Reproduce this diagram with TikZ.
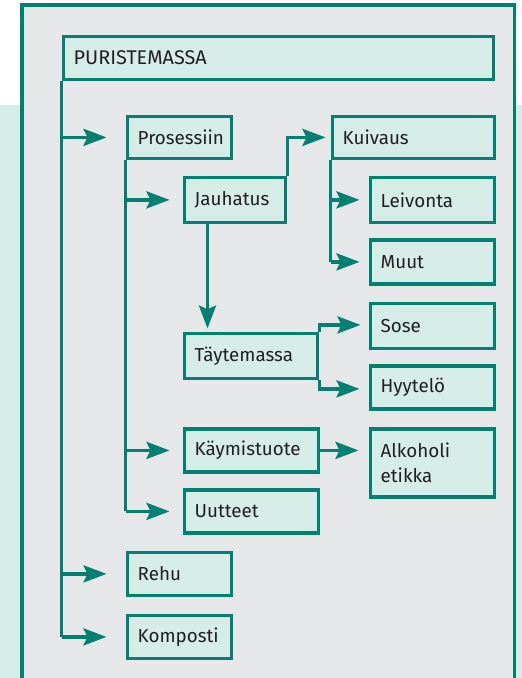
\documentclass[tikz,border=0pt]{standalone}
\usepackage{fontspec}
\setmainfont{Fira Sans}
\usetikzlibrary{arrows.meta,calc}
\definecolor{tealline}{RGB}{0,128,112}
\definecolor{boxfill}{RGB}{213,236,231}
\definecolor{framefill}{RGB}{230,231,233}
\definecolor{txt}{RGB}{35,31,32}
\tikzset{
  box/.style={draw=tealline, fill=boxfill, line width=3.8pt, anchor=north west,
    inner sep=0pt},
  lbl/.style={anchor=west, inner sep=0pt, font=\fontsize{18.8}{25}\selectfont, text=txt, align=left},
  conn/.style={draw=tealline, line width=3.6pt},
  arr/.style={conn, -{Stealth[length=23pt,width=17pt,inset=4pt]}},
}
\begin{document}
\begin{tikzpicture}[x=1pt,y=-1pt]
\useasboundingbox (0,0) rectangle (522,678);
\begin{scope}
\clip (0,0) rectangle (522,678);
\fill[white] (0,0) rectangle (522,105);
\fill[boxfill] (0,105) rectangle (522,678);
\draw[draw=tealline, fill=framefill, line width=3.8pt] (22,5) rectangle (514.5,700);
\end{scope}

\node[box, minimum width=430pt, minimum height=43pt] (pur) at (61.5,34.5) {};
\node[lbl, font=\fontsize{19.8}{23}\selectfont] at ([xshift=12pt]pur.west) {PURISTEMASSA};

\node[box, minimum width=104pt, minimum height=42pt] (pro) at (125.5,114.5) {};
\node[lbl] at ([xshift=12pt]pro.west) {Prosessiin};

\node[box, minimum width=162pt, minimum height=42pt] (kui) at (330.5,114.5) {};
\node[lbl] at ([xshift=12pt]kui.west) {Kuivaus};

\node[box, minimum width=101pt, minimum height=45pt] (jau) at (182.5,175.5) {};
\node[lbl] at ([xshift=12pt]jau.west) {Jauhatus};

\node[box, minimum width=124pt, minimum height=45pt] (lei) at (368.5,175.5) {};
\node[lbl] at ([xshift=12pt]lei.west) {Leivonta};

\node[box, minimum width=124pt, minimum height=44pt] (muu) at (368.5,238) {};
\node[lbl] at ([xshift=12pt]muu.west) {Muut};

\node[box, minimum width=124pt, minimum height=45pt] (sos) at (368.5,301.5) {};
\node[lbl] at ([xshift=12pt]sos.west) {Sose};

\node[box, minimum width=133pt, minimum height=45pt] (tay) at (182.5,331.5) {};
\node[lbl] at ([xshift=12pt]tay.west) {Täytemassa};

\node[box, minimum width=124pt, minimum height=43pt] (hyy) at (368.5,364) {};
\node[lbl] at ([xshift=12pt]hyy.west) {Hyytelö};

\node[box, minimum width=134pt, minimum height=43pt] (kay) at (182.5,427) {};
\node[lbl] at ([xshift=12pt]kay.west) {Käymistuote};

\node[box, minimum width=124pt, minimum height=68pt] (alk) at (368.5,427) {};
\node[lbl] at ([xshift=12pt]alk.west) {Alkoholi\\etikka};

\node[box, minimum width=134pt, minimum height=43pt] (uut) at (182.5,488) {};
\node[lbl] at ([xshift=12pt]uut.west) {Uutteet};

\node[box, minimum width=104pt, minimum height=43pt] (reh) at (125.5,550.5) {};
\node[lbl] at ([xshift=12pt]reh.west) {Rehu};

\node[box, minimum width=104pt, minimum height=43pt] (kom) at (125.5,613.5) {};
\node[lbl] at ([xshift=12pt]kom.west) {Komposti};

% main trunk
\coordinate (t1) at (pur.south west);
\draw[conn] (pur.south west) -- (t1 |- kom.west);
\draw[arr, shorten >=19pt] (t1 |- pro.west) -- (pro.west);
\draw[arr, shorten >=19pt] (t1 |- reh.west) -- (reh.west);
\draw[arr, shorten >=19pt] (t1 |- kom.west) -- (kom.west);

% second trunk
\coordinate (t2) at (pro.south west);
\draw[conn] (pro.south west) -- (t2 |- uut.west);
\draw[arr, shorten >=13pt] (t2 |- jau.west) -- (jau.west);
\draw[arr, shorten >=13pt] (t2 |- kay.west) -- (kay.west);
\draw[arr, shorten >=13pt] (t2 |- uut.west) -- (uut.west);

% Jauhatus -> Kuivaus
\draw[arr, shorten >=5pt] (jau.north east) |- (kui.west);
% Kuivaus trunk
\coordinate (t3) at (kui.south west);
\draw[conn] (kui.south west) -- (t3 |- muu.west);
\draw[arr, shorten >=9pt] (t3 |- lei.west) -- (lei.west);
\draw[arr, shorten >=9pt] (t3 |- muu.west) -- (muu.west);

% Jauhatus -> Taytemassa
\coordinate (jd) at ($(jau.south west)+(25,0)$);
\draw[arr, shorten >=3pt] (jd) -- (jd |- tay.north);

% Taytemassa -> Sose / Hyytelo
\draw[arr, shorten >=8pt] (tay.north east) |- ($(sos.west)+(0,-1)$);
\draw[arr, shorten >=9pt] (tay.south east) |- ($(hyy.west)+(0,1.5)$);

% Kaymistuote -> Alkoholi
\draw[arr, shorten >=10pt] (kay.east) -- (kay.east -| alk.west);
\end{tikzpicture}
\end{document}
